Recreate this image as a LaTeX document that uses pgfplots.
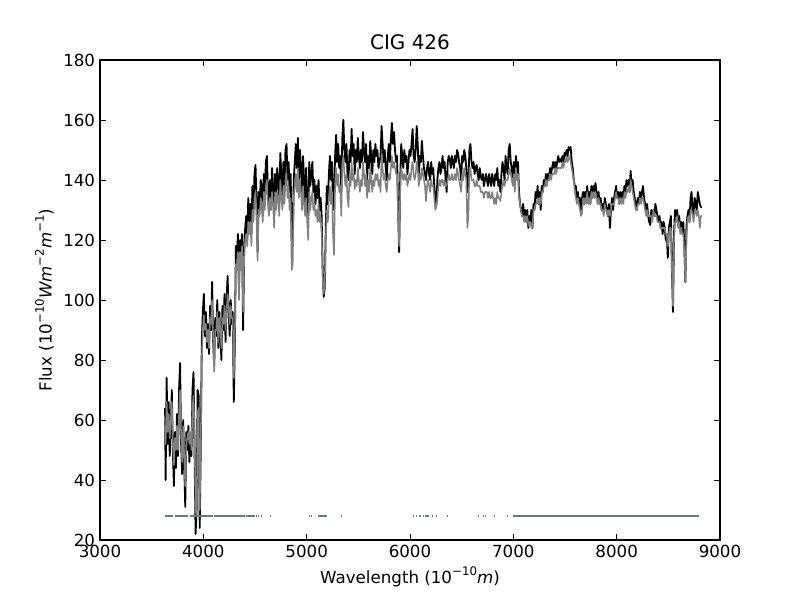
\documentclass[border=0pt]{standalone}
\usepackage{pgfplots}
\usepackage{pgfplotstable}
\pgfplotsset{compat=1.18}
\usepackage{fontspec}
\setmainfont{DejaVu Sans}
\definecolor{maskc}{RGB}{104,120,124}
\newcommand\sups[1]{\raisebox{0.85ex}{\fontsize{8.5}{9}\selectfont #1}}
\pgfplotstableread{
lam obs mod
3630 64 58
3635 40 52
3645 74 66
3655 52 56
3665 66 62
3675 48 54
3685 58 60
3695 70 66
3705 50 52
3715 38 45
3725 56 54
3735 44 50
3745 62 58
3755 48 50
3765 70 62
3775 79 70
3785 52 55
3795 42 46
3805 60 58
3815 46 48
3825 31 38
3835 56 52
3845 50 54
3855 58 56
3865 46 52
3875 54 56
3885 48 50
3895 70 64
3905 76 68
3915 50 56
3925 22 30
3935 30 28
3945 70 62
3955 68 64
3965 24 30
3975 50 52
3985 86 80
3995 96 90
4005 102 95
4015 88 90
4025 96 92
4035 84 86
4045 92 90
4055 82 84
4065 98 94
4075 90 92
4085 106 100
4095 86 88
4105 78 76
4115 94 90
4125 88 90
4135 100 96
4145 84 86
4155 96 94
4165 88 90
4175 80 84
4185 98 94
4195 90 92
4205 102 98
4215 86 90
4225 100 96
4235 108 102
4245 96 98
4255 88 92
4265 100 98
4275 92 94
4285 96 94
4295 66 74
4305 86 88
4315 118 112
4325 114 110
4335 122 116
4345 104 100
4355 120 116
4365 112 110
4375 122 118
4385 90 96
4395 116 114
4405 124 120
4415 128 122
4425 120 118
4435 134 126
4445 126 122
4455 132 126
4465 122 118
4475 138 130
4485 130 126
4495 142 134
4505 145 136
4515 132 128
4525 116 113
4535 136 130
4545 130 128
4555 140 134
4565 138 132
4575 128 126
4585 142 136
4595 134 130
4605 146 138
4615 148 140
4625 136 132
4635 130 128
4645 140 134
4655 134 130
4665 144 136
4675 138 132
4685 128 124
4695 142 136
4705 136 130
4715 144 136
4725 140 134
4735 132 128
4745 149 140
4755 142 134
4765 134 130
4775 146 138
4785 138 132
4795 150 140
4805 152 142
4815 140 134
4825 146 138
4835 136 130
4845 142 134
4855 120 110
4865 118 112
4875 140 134
4885 146 138
4895 152 142
4905 144 136
4915 154 144
4925 140 134
4935 150 140
4945 144 136
4955 136 130
4965 148 138
4975 140 132
4985 132 128
4995 144 134
5005 130 126
5015 128 120
5025 146 136
5035 138 130
5045 142 134
5055 146 136
5065 136 130
5075 140 132
5085 132 128
5095 138 130
5105 134 126
5115 140 132
5125 130 126
5135 134 128
5145 128 122
5155 110 108
5165 101 102
5175 104 106
5185 124 120
5195 138 130
5205 132 126
5215 142 134
5225 148 138
5235 140 132
5245 146 136
5255 130 122
5265 134 115
5275 148 138
5285 155 144
5295 146 138
5305 152 142
5315 144 136
5325 148 138
5335 136 128
5345 154 146
5355 160 148
5365 150 142
5375 146 138
5385 152 142
5395 142 134
5405 140 131
5415 150 142
5425 146 138
5435 157 146
5445 148 140
5455 152 142
5465 142 137
5475 150 140
5485 146 138
5495 154 144
5505 148 140
5515 144 136
5525 150 140
5535 146 138
5545 156 146
5555 150 142
5565 146 138
5575 152 142
5585 140 134
5595 148 140
5605 144 136
5615 153 144
5625 148 140
5635 142 136
5645 150 140
5655 146 138
5665 152 142
5675 148 140
5685 150 142
5695 144 138
5705 146 140
5715 148 136
5725 158 148
5735 152 144
5745 146 140
5755 150 142
5765 144 138
5775 140 136
5785 148 140
5795 152 142
5805 146 140
5815 154 144
5825 159 148
5835 152 144
5845 156 146
5855 150 144
5865 146 142
5875 148 142
5885 130 128
5895 116 118
5905 140 136
5915 152 144
5925 148 142
5935 144 140
5945 150 142
5955 146 140
5965 148 142
5975 142 138
5985 146 140
5995 150 142
6005 148 140
6015 152 144
6025 157 146
6035 148 142
6045 146 140
6055 150 142
6065 158 146
6075 152 144
6085 141 138
6095 148 142
6105 146 140
6115 153 144
6125 148 142
6135 144 140
6145 142 138
6155 140 133
6165 144 138
6175 146 140
6185 142 138
6195 140 136
6205 146 140
6215 142 138
6225 144 138
6235 138 134
6245 134 130
6255 132 131
6265 140 134
6275 144 138
6285 146 140
6295 142 138
6305 144 140
6315 148 140
6325 144 138
6335 146 140
6345 140 138
6355 136 138
6365 146 140
6375 148 142
6385 147 140
6395 144 140
6405 148 142
6415 146 140
6425 144 140
6435 148 142
6445 146 140
6455 150 144
6465 149 142
6475 146 140
6485 144 138
6495 140 136
6505 148 142
6515 146 140
6525 150 144
6535 148 142
6545 144 140
6555 136 124
6565 140 128
6575 150 144
6585 152 144
6595 146 140
6605 144 140
6615 146 140
6625 142 138
6635 144 138
6645 145 140
6655 142 138
6665 140 138
6675 144 138
6685 141 136
6695 140 136
6705 142 136
6715 138 134
6725 140 136
6735 142 136
6745 140 136
6755 138 134
6765 142 136
6775 140 134
6785 138 134
6795 142 136
6805 140 134
6815 138 132
6825 142 134
6835 140 132
6845 144 136
6855 138 134
6865 140 134
6875 136 133
6885 142 136
6895 146 138
6905 144 140
6915 140 138
6925 148 140
6935 144 140
6945 142 140
6955 150 142
6965 152 144
6975 146 142
6985 144 140
6995 140 138
7005 146 142
7015 140 136
7025 148 144
7035 142 140
7045 146 142
7055 136 134
7065 132 132
7075 130 130
7085 128 128
7095 132 128
7105 128 126
7115 130 128
7125 126 126
7135 130 128
7145 124 125
7155 128 126
7165 126 126
7175 130 124
7185 124 124
7195 132 130
7205 130 130
7215 136 132
7225 134 132
7235 138 134
7245 132 132
7255 136 134
7265 130 132
7275 138 136
7285 136 136
7295 140 138
7305 138 138
7315 142 140
7325 140 138
7335 142 140
7345 140 140
7355 144 142
7365 142 140
7375 144 142
7385 146 142
7395 144 142
7405 146 144
7415 144 142
7425 146 144
7435 148 144
7445 146 144
7455 147 144
7465 146 144
7475 148 146
7485 146 144
7495 149 146
7505 148 146
7515 150 148
7525 148 146
7535 151 147
7545 150 148
7555 151 146
7565 146 144
7575 144 142
7585 140 140
7595 138 136
7605 138 134
7615 134 132
7625 136 134
7635 132 132
7645 134 130
7655 130 128
7665 134 129
7675 136 134
7685 132 132
7695 136 134
7705 134 132
7715 138 136
7725 134 132
7735 136 134
7745 132 132
7755 138 136
7765 134 134
7775 138 136
7785 136 134
7795 139 136
7805 136 134
7815 134 132
7825 136 134
7835 132 132
7845 134 132
7855 130 130
7865 132 130
7875 130 128
7885 134 132
7895 132 130
7905 130 130
7915 128 128
7925 132 130
7935 124 128
7945 130 130
7955 134 132
7965 130 132
7975 134 132
7985 136 134
7995 138 136
8005 134 134
8015 136 134
8025 132 132
8035 136 134
8045 134 132
8055 136 134
8065 134 132
8075 138 136
8085 136 134
8095 140 136
8105 138 136
8115 140 138
8125 136 136
8135 143 140
8145 138 138
8155 140 136
8165 136 134
8175 134 132
8185 132 130
8195 130 130
8205 134 132
8215 132 132
8225 136 134
8235 134 132
8245 136 134
8255 138 134
8265 134 132
8275 132 130
8285 130 128
8295 132 130
8305 128 128
8315 126 128
8325 125 128
8335 130 128
8345 128 126
8355 130 130
8365 128 128
8375 132 128
8385 130 128
8395 128 126
8405 126 126
8415 128 126
8425 124 124
8435 126 124
8445 122 124
8455 126 124
8465 124 124
8475 120 122
8485 122 122
8495 114 118
8505 124 122
8515 126 124
8525 128 124
8535 110 110
8545 96 98
8555 122 120
8565 130 126
8575 128 126
8585 130 128
8595 126 124
8605 128 126
8615 124 122
8625 126 124
8635 122 122
8645 126 122
8655 118 116
8665 106 106
8675 124 120
8685 128 126
8695 130 128
8705 126 126
8715 134 130
8725 136 130
8735 130 128
8745 128 126
8755 134 130
8765 132 130
8775 130 128
8785 136 130
8795 134 128
8805 132 124
8815 131 128
8825 131 128
}\spec
\begin{document}
\begin{tikzpicture}
\path[use as bounding box] (-72pt,-43.2pt) rectangle (504pt,388.8pt);
\begin{axis}[
  at={(0,0)}, anchor=south west,
  scale only axis, width=446.4pt, height=345.6pt,
  xmin=3000, xmax=9000, ymin=20, ymax=180,
  xtick={3000,4000,...,9000}, ytick={20,40,...,180},
  /pgf/number format/assume math mode=true,
  /pgf/number format/1000 sep={},
  ticklabel style={font=\fontsize{12}{14}\selectfont},
  tick align=inside, xtick pos=both, ytick pos=both,
  major tick length=4pt,
  tick style={line width=0.7pt, black},
  axis line style={line width=0.9pt},
  title={CIG 426},
  title style={font=\fontsize{14.4}{16}\selectfont, yshift=-2pt},
  xlabel={Wavelength (10\sups{−10}\textit{m})},
  ylabel={Flux (10\sups{−10}\textit{Wm}\sups{−2}\textit{m}\sups{−1})},
  label style={font=\fontsize{12}{14}\selectfont},
  unbounded coords=jump,
]
\addplot[black, line width=1.3pt, line join=round] table[x=lam, y=obs] {\spec};
\addplot[gray, line width=1.1pt, line join=round] table[x=lam, y=mod] {\spec};
\addplot[maskc, line width=1.4pt] coordinates {
(3632,28) (3710,28) (3718,nan)
(3726,28) (3855,28) (3863,nan)
(3871,28) (4090,28) (4096,nan)
(4103,28) (4403,28) (4406,nan)
(4410,28) (4420,28) (4423,nan)
(4426,28) (4500,28) (4505,nan)
(4510,28) (4518,28) (4524,nan)
(4530,28) (4538,28) (4550,nan)
(4560,28) (4566,28) (4600,nan)
(4645,28) (4653,28) (4700,nan)
(5020,28) (5027,28) (5033,nan)
(5040,28) (5046,28) (5080,nan)
(5110,28) (5195,28) (5250,nan)
(5330,28) (5338,28) (5500,nan)
(6030,28) (6040,28) (6050,nan)
(6060,28) (6070,28) (6080,nan)
(6090,28) (6110,28) (6118,nan)
(6125,28) (6140,28) (6145,nan)
(6150,28) (6185,28) (6200,nan)
(6210,28) (6225,28) (6240,nan)
(6250,28) (6260,28) (6300,nan)
(6360,28) (6369,28) (6500,nan)
(6655,28) (6664,28) (6690,nan)
(6705,28) (6714,28) (6722,nan)
(6730,28) (6739,28) (6780,nan)
(6810,28) (6818,28) (6900,nan)
(6935,28) (6944,28) (6970,nan)
(7000,28) (8800,28)
};
\end{axis}
\end{tikzpicture}
\end{document}
